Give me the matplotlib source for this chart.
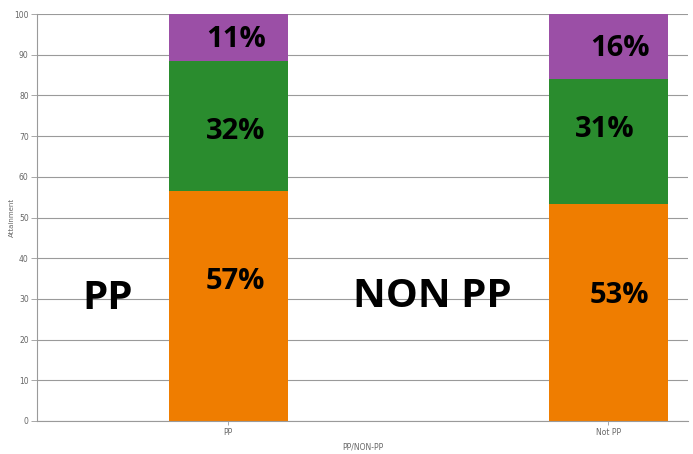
import matplotlib.pyplot as plt

# data
categories = ["PP", "Not PP"]
orange_vals = [56.5, 53.3]
green_vals = [31.9, 30.7]
purple_vals = [11.6, 16.0]
orange_labels = ["57%", "53%"]
green_labels = ["32%", "31%"]
purple_labels = ["11%", "16%"]

ORANGE = "#EF7D00"
GREEN = "#2A8C2E"
PURPLE = "#9B4FA6"
GRID = "#9a9a9a"
BOLD = ["Open Sans", "DejaVu Sans"]


def render():
    fig = plt.figure(figsize=(6.93, 4.54), dpi=100)
    ax = fig.add_axes([37 / 693, 1 - 421 / 454, (688 - 37) / 693, (421 - 14) / 454])

    x = range(len(categories))
    w = 0.313
    bottoms2 = [a + b for a, b in zip(orange_vals, green_vals)]
    ax.bar(x, orange_vals, width=w, color=ORANGE, zorder=2)
    ax.bar(x, green_vals, width=w, bottom=orange_vals, color=GREEN, zorder=2)
    ax.bar(x, purple_vals, width=w, bottom=bottoms2, color=PURPLE, zorder=2)

    # segment labels (slightly off-centre as in the original)
    lbl = dict(fontsize=21, fontweight="bold", family=BOLD, color="black",
               ha="center", va="center", zorder=3)
    ax.text(0.02, 93.8, purple_labels[0], **lbl)
    ax.text(0.02, 71.2, green_labels[0], **lbl)
    ax.text(0.02, 34.2, orange_labels[0], **lbl)
    ax.text(1.03, 91.5, purple_labels[1], **lbl)
    ax.text(0.99, 71.6, green_labels[1], **lbl)
    ax.text(1.03, 30.9, orange_labels[1], **lbl)

    big = dict(fontsize=29, fontweight="bold", family=BOLD, color="black",
               ha="center", va="center", zorder=3)
    ax.text(-0.318, 30.2, "PP", **big)
    ax.text(0.537, 30.7, "NON PP", **big)

    ax.set_xlim(-0.503, 1.21)
    ax.set_ylim(0, 100)
    ax.set_yticks(range(0, 101, 10))
    ax.yaxis.grid(True, color=GRID, linewidth=0.8, zorder=0)
    ax.set_axisbelow(True)
    ax.set_xticks(list(x))
    ax.set_xticklabels(categories)
    ax.tick_params(axis="both", labelsize=5.5, labelcolor="#666666", color=GRID,
                   length=3, width=0.6, pad=2)
    ax.tick_params(axis="y", length=4)
    for side in ("top", "right"):
        ax.spines[side].set_visible(False)
    ax.spines["left"].set_color(GRID)
    ax.spines["bottom"].set_color(GRID)
    ax.spines["left"].set_linewidth(0.8)
    ax.spines["bottom"].set_linewidth(0.8)

    ax.set_xlabel("PP/NON-PP", fontsize=5.5, color="#666666")
    ax.set_ylabel("Attainment", fontsize=5, color="#666666")
    # place axis titles where the original has them
    ax.xaxis.set_label_coords(0.5, -22 / 407)
    ax.yaxis.set_label_coords(-22 / 651, 0.5)

    fig.savefig("out.png", dpi=100, facecolor="white")
    plt.close(fig)


if __name__ == "__main__":
    render()
